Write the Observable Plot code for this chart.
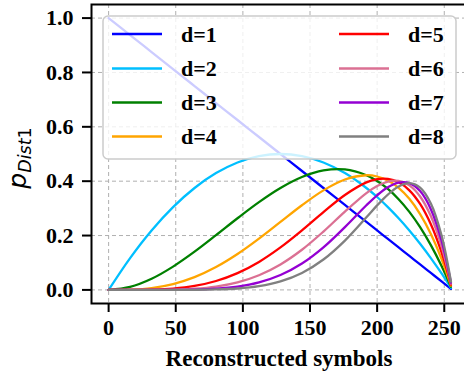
<!DOCTYPE html>
<html>
<head>
<meta charset="utf-8">
<script src="https://cdn.jsdelivr.net/npm/d3@7/dist/d3.min.js"></script>
<script src="https://cdn.jsdelivr.net/npm/@observablehq/plot@0.6/dist/plot.umd.min.js"></script>
<style>
  html, body { margin: 0; padding: 0; background: white; }
</style>
</head>
<body>
<div id="chart"></div>
<script>
// Reconstructed symbol positions (x) at which each curve is sampled
const symbols = [0, 16, 32, 48, 64, 80, 96, 112, 128, 144, 160, 176, 192, 200, 208, 216, 224, 232, 240, 248, 255];

// p_Dist1 for each d
const d1 = [1.0, 0.9375, 0.875, 0.8125, 0.75, 0.6875, 0.625, 0.5625, 0.5, 0.4375, 0.375, 0.3125, 0.25, 0.2188, 0.1875, 0.1563, 0.125, 0.0938, 0.0625, 0.0313, 0.0039];
const d2 = [0.0, 0.1172, 0.2188, 0.3047, 0.375, 0.4297, 0.4688, 0.4922, 0.5, 0.4922, 0.4688, 0.4297, 0.375, 0.3418, 0.3047, 0.2637, 0.2188, 0.1699, 0.1172, 0.0605, 0.0078];
const d3v = [0.0, 0.0110, 0.0410, 0.0857, 0.1406, 0.2014, 0.2637, 0.3230, 0.375, 0.4153, 0.4395, 0.4431, 0.4219, 0.4005, 0.3713, 0.3337, 0.2871, 0.2310, 0.1648, 0.0880, 0.0116];
const d4 = [0.0, 0.0009, 0.0068, 0.0214, 0.0469, 0.0839, 0.1318, 0.1884, 0.25, 0.3115, 0.3662, 0.4062, 0.4219, 0.4172, 0.4023, 0.3754, 0.3350, 0.2791, 0.2060, 0.1136, 0.0154];
const d5 = [0.0, 0.0001, 0.0011, 0.0050, 0.0147, 0.0328, 0.0618, 0.1030, 0.1563, 0.2190, 0.2861, 0.3491, 0.3955, 0.4075, 0.4086, 0.3960, 0.3664, 0.3162, 0.2414, 0.1376, 0.0192];
const d6 = [0.0, 0.0, 0.0002, 0.0011, 0.0044, 0.0123, 0.0278, 0.0541, 0.0938, 0.1478, 0.2146, 0.2880, 0.3560, 0.3820, 0.3984, 0.4009, 0.3847, 0.3438, 0.2716, 0.1600, 0.0230];
const d7 = [0.0, 0.0, 0.0, 0.0003, 0.0013, 0.0045, 0.0122, 0.0276, 0.0547, 0.0970, 0.1565, 0.2310, 0.3115, 0.3482, 0.3776, 0.3946, 0.3927, 0.3635, 0.2970, 0.1808, 0.0267];
const d8 = [0.0, 0.0, 0.0, 0.0001, 0.0004, 0.0016, 0.0052, 0.0138, 0.0313, 0.0624, 0.1118, 0.1815, 0.2670, 0.3109, 0.3506, 0.3805, 0.3927, 0.3765, 0.3183, 0.2002, 0.0304];

const seriesNames = ["d=1", "d=2", "d=3", "d=4", "d=5", "d=6", "d=7", "d=8"];
const seriesValues = [d1, d2, d3v, d4, d5, d6, d7, d8];
const seriesColors = ["#0000ff", "#00bfff", "#008000", "#ffa500", "#ff0000", "#db7093", "#9400d3", "#808080"];

const xTicks = [0, 50, 100, 150, 200, 250];
const yTicks = [0.0, 0.2, 0.4, 0.6, 0.8, 1.0];

const rows = seriesNames.flatMap((name, k) =>
  symbols.map((s, i) => ({ x: s, p: seriesValues[k][i], d: name }))
);

const serif = "'Liberation Serif', 'Times New Roman', serif";
const W = 464, H = 378;

const chart = Plot.plot({
  width: W,
  height: H,
  marginLeft: 91,
  marginRight: -3.6,
  marginTop: 4,
  marginBottom: 75,
  style: { fontFamily: serif, fontWeight: "bold", fontSize: "22px", background: "white", color: "black" },
  x: { domain: [-12.75, 267.75] },
  y: { domain: [-0.05, 1.05] },
  color: { type: "ordinal", domain: seriesNames, range: seriesColors },
  marks: [
    Plot.gridX(xTicks, { stroke: "#b0b0b0", strokeOpacity: 1, strokeWidth: 1, strokeDasharray: "4,3" }),
    Plot.gridY(yTicks, { stroke: "#b0b0b0", strokeOpacity: 1, strokeWidth: 1, strokeDasharray: "4,3" }),
    Plot.line(rows, { x: "x", y: "p", z: "d", stroke: "d", curve: "catmull-rom", strokeWidth: 2.3 }),
    Plot.frame({ stroke: "black", strokeWidth: 2 }),
    Plot.axisX(xTicks, { tickSize: 9, tickPadding: 7, strokeWidth: 2, label: null }),
    Plot.axisY(yTicks, { tickSize: 9, tickPadding: 9, strokeWidth: 2, tickFormat: (v) => v.toFixed(1), label: null })
  ]
});

const NS = "http://www.w3.org/2000/svg";
function add(parent, tag, attrs, text) {
  const el = document.createElementNS(NS, tag);
  for (const [k, v] of Object.entries(attrs)) el.setAttribute(k, v);
  if (text != null) el.textContent = text;
  parent.appendChild(el);
  return el;
}

// Legend box with two columns
const legend = add(chart, "g", { "text-anchor": "start" });
add(legend, "rect", {
  x: 103, y: 16, width: 353, height: 143, rx: 5, ry: 5,
  fill: "white", "fill-opacity": 0.8, stroke: "#cccccc", "stroke-width": 1.5
});
const rowY = [34, 68.5, 102.5, 136.5];
seriesNames.forEach((name, k) => {
  const col = Math.floor(k / 4), r = k % 4;
  const hx = col === 0 ? 112 : 339;
  const tx = col === 0 ? 181 : 408;
  add(legend, "line", { x1: hx, x2: hx + 50, y1: rowY[r], y2: rowY[r], stroke: seriesColors[k], "stroke-width": 2.3 });
  add(legend, "text", {
    x: tx, y: rowY[r], dy: "0.35em", "text-anchor": "start", "font-family": serif,
    "font-weight": "bold", "font-size": 22, fill: "black"
  }, name);
});

// X axis title
add(chart, "text", {
  x: 279, y: 366, "text-anchor": "middle", "font-family": serif,
  "font-weight": "bold", "font-size": 23, fill: "black"
}, "Reconstructed symbols");

// Y axis title: p with subscript Dist1
const yl = add(chart, "text", {
  transform: "translate(26,158) rotate(-90)", "text-anchor": "middle",
  "font-family": "'DejaVu Sans', sans-serif", "font-style": "italic",
  "font-weight": "normal", fill: "black"
});
add(yl, "tspan", { "font-size": 25 }, "p");
add(yl, "tspan", { "font-size": 17.5, dy: 5 }, "Dist");
add(yl, "tspan", { "font-size": 17.5, "font-style": "normal" }, "1");

document.getElementById("chart").appendChild(chart);
</script>
</body>
</html>
